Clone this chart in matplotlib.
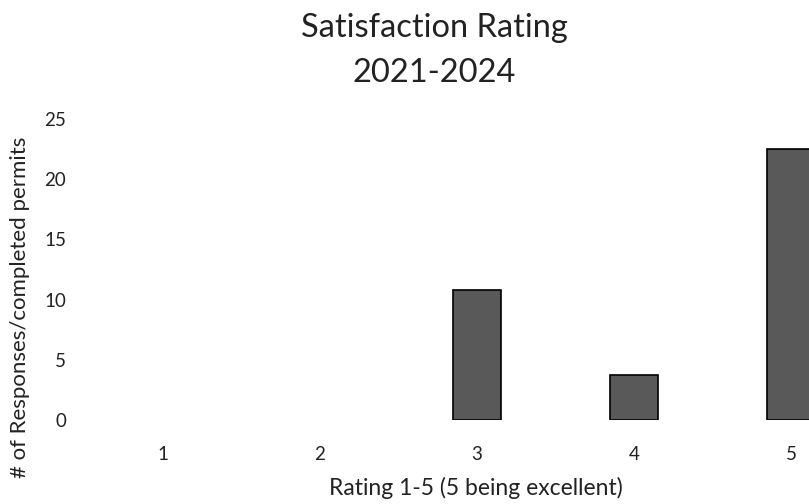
import matplotlib.pyplot as plt

# valores
ratings = [1, 2, 3, 4, 5]
responses = [0, 0, 10.8, 3.7, 22.5]
y_ticks = [0, 5, 10, 15, 20, 25]

plt.rcParams['font.family'] = ['Lato', 'DejaVu Sans']

W, H = 809, 504
fig = plt.figure(figsize=(W / 100, H / 100), dpi=100)

# ejes: el lado derecho queda cortado como en la imagen original
left, right, bottom, top = 84.5, 809, 420, 119
ax = fig.add_axes([left / W, 1 - bottom / H, (right - left) / W, (bottom - top) / H])

# sin borde en las barras de valor 0
lw = [1.2 if v > 0 else 0 for v in responses]
ax.bar(ratings, responses, width=0.31, color='#595959', edgecolor='black', linewidth=lw)

ax.set_xlim(0.5, 1 + (809 - 163) / 157)
ax.set_ylim(0, 25)
ax.set_xticks(ratings)
ax.set_yticks(y_ticks)
ax.tick_params(axis='both', length=0, labelsize=13.5, colors='#222222')
ax.tick_params(axis='y', pad=13.3)
ax.tick_params(axis='x', pad=18.7)
for s in ax.spines.values():
    s.set_visible(False)

# titulo en dos lineas
fig.text(434 / W, 1 - 37 / H, 'Satisfaction Rating', ha='center', va='baseline', fontsize=23.5, color='#222222')
fig.text(434 / W, 1 - 82 / H, '2021-2024', ha='center', va='baseline', fontsize=23.5, color='#222222')
fig.text(476 / W, 1 - 488 / H, 'Rating 1-5 (5 being excellent)', ha='center', va='center', fontsize=16.5, color='#222222')
fig.text(20 / W, 1 - 307 / H, '# of Responses/completed permits', ha='center', va='center',
         rotation=90, fontsize=16.0, color='#222222')

fig.savefig('out.png', dpi=100)
